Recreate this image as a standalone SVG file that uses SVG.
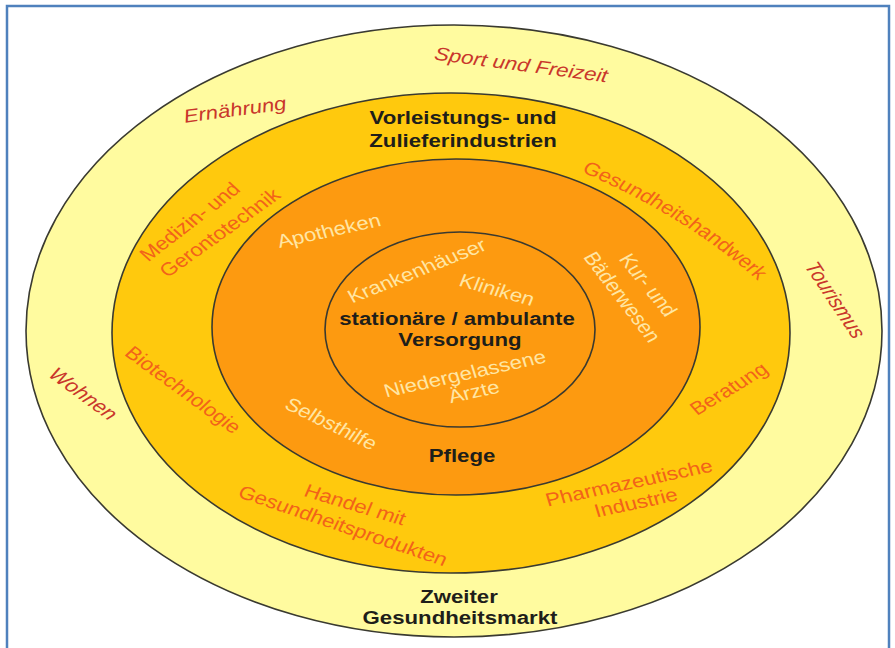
<svg xmlns="http://www.w3.org/2000/svg" width="895" height="648" viewBox="0 0 895 648">
  <style>
    text { font-family: "Liberation Sans", Arial, sans-serif; font-size: 18.5px; text-anchor: middle; }
    .ring { stroke: #3a3a30; stroke-width: 1.6; }
    .outer-lbl { font-style: italic; fill: #c9362b; }
    .supply-lbl { fill: #f2621a; }
    .care-lbl { fill: #ffe6a4; }
    .head { font-weight: bold; fill: #1e1e1a; }
  </style>
  <defs>
    <!-- baseline for the curved label in the supply ring (unstretched space) -->
    <path id="arc-handwerk" d="M 466.7 163 Q 575 215 641.7 292"/>
  </defs>

  <rect x="0" y="0" width="895" height="648" fill="#ffffff"/>
  <rect id="frame" x="7" y="6" width="882" height="670" fill="none" stroke="#4f81bd" stroke-width="2.5"/>

  <!-- second health market -->
  <g id="ring-outer">
    <ellipse class="ring" cx="454" cy="331" rx="428" ry="306" fill="#fffb9f"/>
    <text class="outer-lbl" transform="translate(521,65) scale(1.2,1) rotate(9)" y="6">Sport und Freizeit</text>
    <text class="outer-lbl" transform="translate(235,110) scale(1.2,1) rotate(-9)" y="6">Ernährung</text>
    <text class="outer-lbl" transform="translate(835,300) scale(1.2,1) rotate(61)" y="6">Tourismus</text>
    <text class="outer-lbl" transform="translate(83,394) scale(1.2,1) rotate(41.5)" y="6">Wohnen</text>
    <text class="head" transform="translate(459,603) scale(1.2,1)">Zweiter</text>
    <text class="head" transform="translate(460,624) scale(1.2,1)">Gesundheitsmarkt</text>
  </g>

  <!-- supply and ancillary industries -->
  <g id="ring-supply">
    <ellipse class="ring" cx="451" cy="333" rx="339" ry="240" fill="#ffc90d"/>
    <text class="head" transform="translate(463,124) scale(1.2,1)">Vorleistungs- und</text>
    <text class="head" transform="translate(463,147) scale(1.2,1)">Zulieferindustrien</text>
    <text class="supply-lbl" transform="translate(190,222) scale(1.2,1) rotate(-42.6)" y="6">Medizin- und</text>
    <text class="supply-lbl" transform="translate(220,233) scale(1.2,1) rotate(-40.6)" y="6">Gerontotechnik</text>
    <g transform="scale(1.2,1)">
      <text class="supply-lbl"><textPath href="#arc-handwerk" startOffset="51%">Gesundheitshandwerk</textPath></text>
    </g>
    <text class="supply-lbl" transform="translate(183,390) scale(1.2,1) rotate(41.2)" y="6">Biotechnologie</text>
    <text class="supply-lbl" transform="translate(729,389) scale(1.2,1) rotate(-36.2)" y="6">Beratung</text>
    <text class="supply-lbl" transform="translate(355,505) scale(1.2,1) rotate(19.7)" y="6">Handel mit</text>
    <text class="supply-lbl" transform="translate(343,526) scale(1.2,1) rotate(22)" y="6">Gesundheitsprodukten</text>
    <text class="supply-lbl" transform="translate(629,483) scale(1.2,1) rotate(-14.3)" y="6">Pharmazeutische</text>
    <text class="supply-lbl" transform="translate(636,503) scale(1.2,1) rotate(-14.3)" y="6">Industrie</text>
  </g>

  <!-- care -->
  <g id="ring-care">
    <ellipse class="ring" cx="456" cy="327" rx="244" ry="168" fill="#fd9a10"/>
    <text class="care-lbl" transform="translate(329,231) scale(1.2,1) rotate(-14.8)" y="6">Apotheken</text>
    <text class="care-lbl" transform="translate(648,285) scale(1.2,1) rotate(56.2)" y="6">Kur- und</text>
    <text class="care-lbl" transform="translate(622,297) scale(1.2,1) rotate(57.5)" y="6">Bäderwesen</text>
    <text class="care-lbl" transform="translate(331,424) scale(1.2,1) rotate(30.3)" y="6">Selbsthilfe</text>
    <text class="head" transform="translate(462,462) scale(1.2,1)">Pflege</text>
  </g>

  <!-- inpatient / outpatient care -->
  <g id="ring-core">
    <ellipse class="ring" cx="460" cy="329.5" rx="135" ry="97.5" fill="#fd9a10"/>
    <text class="care-lbl" transform="translate(417,271) scale(1.2,1) rotate(-25.6)" y="6">Krankenhäuser</text>
    <text class="care-lbl" transform="translate(497,290) scale(1.2,1) rotate(18.5)" y="6">Kliniken</text>
    <text class="head" transform="translate(457,325) scale(1.2,1)">stationäre / ambulante</text>
    <text class="head" transform="translate(460,346) scale(1.2,1)">Versorgung</text>
    <text class="care-lbl" transform="translate(465,374) scale(1.2,1) rotate(-14.8)" y="6">Niedergelassene</text>
    <text class="care-lbl" transform="translate(474,392) scale(1.2,1) rotate(-14.8)" y="6">Ärzte</text>
  </g>
</svg>
